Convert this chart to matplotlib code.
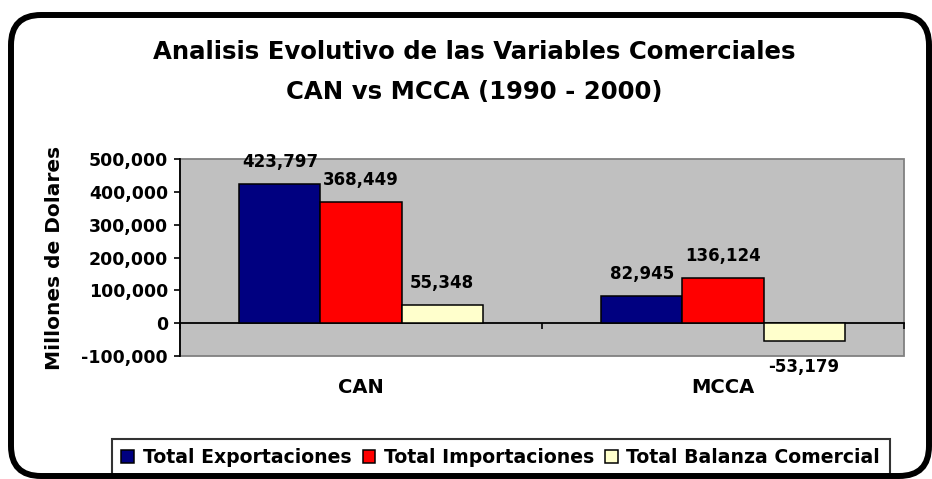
import matplotlib.pyplot as plt
import matplotlib.patches as mpatches
from matplotlib.transforms import IdentityTransform
from matplotlib.ticker import FuncFormatter
import numpy as np

plt.rcParams['font.family'] = 'DejaVu Sans'
plt.rcParams['font.weight'] = 'bold'

# Datos (millones de dolares)
regions = ['CAN', 'MCCA']
exportaciones = [423797, 82945]
importaciones = [368449, 136124]
balanza = [55348, -53179]
series_names = ['Total Exportaciones', 'Total Importaciones', 'Total Balanza Comercial']
colors = ['#000080', '#FF0000', '#FFFFCC']
y_ticks = [-100000, 0, 100000, 200000, 300000, 400000, 500000]

W, H = 932, 479
fig = plt.figure(figsize=(W / 100, H / 100), dpi=100)
ax = fig.add_axes([180 / W, 1 - 356 / H, 724 / W, 197 / H])
ax.set_facecolor('#C0C0C0')

x = np.arange(len(regions))
w = 0.224
for i, (vals, name, c) in enumerate(zip([exportaciones, importaciones, balanza], series_names, colors)):
    bars = ax.bar(x + (i - 1) * w, vals, w, color=c, edgecolor='black',
                  linewidth=1.1, label=name, zorder=3)
    for b, v in zip(bars, vals):
        off = 22 if v >= 0 else -26
        ax.annotate(f'{v:,}', (b.get_x() + b.get_width() / 2, v), xytext=(0, off),
                    textcoords='offset pixels', ha='center', va='center',
                    fontsize=12, fontweight='bold')

# Ejes
ax.set_xlim(-0.5, 1.5)
ax.set_ylim(y_ticks[0], y_ticks[-1])
ax.set_yticks(y_ticks)
ax.yaxis.set_major_formatter(FuncFormatter(lambda v, p: f'{int(v):,}'))
ax.tick_params(axis='y', direction='out', length=4.3, width=1.2, pad=4.3, labelsize=12.5)
ax.spines['bottom'].set_position(('data', 0))
ax.spines['bottom'].set_linewidth(1.3)
ax.spines['left'].set_linewidth(1.3)
ax.spines['top'].set_visible(False)
ax.spines['right'].set_visible(False)
ax.set_xticks([-0.5, 0.5, 1.5])
ax.tick_params(axis='x', direction='out', length=4.3, width=1.2, labelbottom=False)
ax.add_patch(mpatches.Rectangle((0, 0), 1, 1, transform=ax.transAxes, fill=False,
                                edgecolor='#808080', lw=1.3, zorder=1, clip_on=False))

for xi, r in zip(x, regions):
    ax.text(xi, -0.162, r, transform=ax.get_xaxis_transform(), ha='center', va='center',
            fontsize=14, fontweight='bold')

fig.text(55 / W, 1 - 258 / H, 'Millones de Dolares', rotation=90, ha='center', va='center',
         fontsize=14.5, fontweight='bold')

# Titulo
fig.text(474 / W, 1 - 52 / H, 'Analisis Evolutivo de las Variables Comerciales',
         ha='center', va='center', fontsize=17.6, fontweight='bold')
fig.text(474 / W, 1 - 92 / H, 'CAN vs MCCA (1990 - 2000)',
         ha='center', va='center', fontsize=17.6, fontweight='bold')

# Leyenda
leg = fig.legend(loc='upper left', bbox_to_anchor=(112 / W, 1 - 439 / H), ncol=3,
                 frameon=True, fancybox=False, edgecolor='black', fontsize=13.6,
                 handlelength=0.67, handleheight=0.67, handletextpad=0.45,
                 columnspacing=0.6, borderpad=0.5, borderaxespad=0)
leg.get_frame().set_linewidth(1.5)

# Marco redondeado
frame = mpatches.FancyBboxPatch((11, 3), 918, 461, boxstyle='round,pad=0,rounding_size=30',
                                transform=IdentityTransform(), fill=False, lw=4.3,
                                edgecolor='black', zorder=10)
fig.add_artist(frame)

fig.savefig('out.png', dpi=100)
